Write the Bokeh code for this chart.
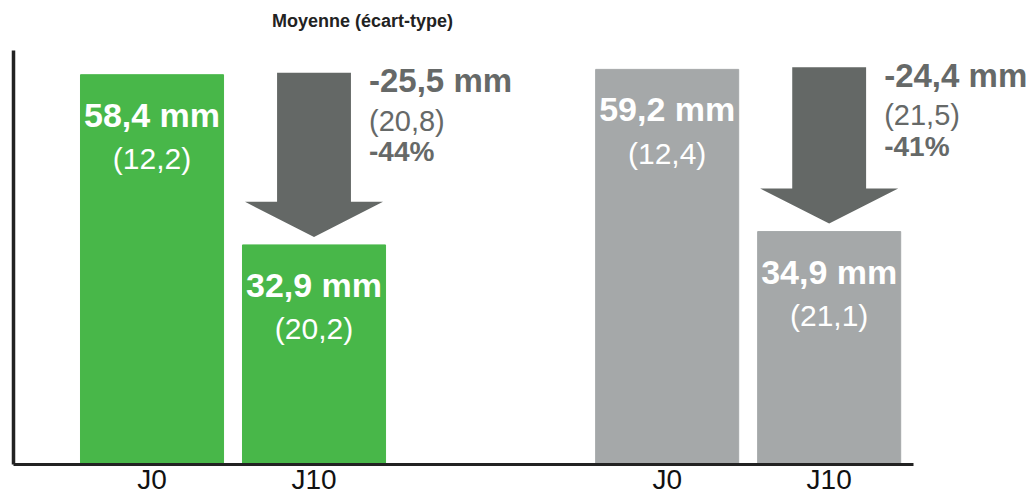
from bokeh.plotting import figure
from bokeh.models import ColumnDataSource, Range1d, FixedTicker, LinearAxis
from bokeh.core.properties import value
from bokeh.embed import file_html
from bokeh.resources import INLINE

# ---- data ----
groups = ["vert", "vert", "gris", "gris"]
days = ["J0", "J10", "J0", "J10"]
means = [58.4, 32.9, 59.2, 34.9]
mean_labels = ["58,4 mm", "32,9 mm", "59,2 mm", "34,9 mm"]
sd_labels = ["(12,2)", "(20,2)", "(12,4)", "(21,1)"]
diff_labels = ["-25,5 mm", "-24,4 mm"]
diff_sd_labels = ["(20,8)", "(21,5)"]
diff_pct_labels = ["-44%", "-41%"]
title_text = "Moyenne (écart-type)"

# ---- layout / style ----
W, H = 1030, 497
BORDER_L = 13
PX_X = 162.0            # pixels per x unit
X0 = 0.145
X1 = X0 + (W - BORDER_L) / PX_X
FRAME_H = 463
SCALE_Y = 6.66          # pixels per mm
Y_END = FRAME_H / SCALE_Y
PX = 1 / SCALE_Y        # y data units per pixel
GROUP_STEP = 3.18
BAR_W = 0.883
GREEN = "#48b749"
GREY = "#a5a8a9"
ARROW = "#646866"
TXT_GREY = "#666968"
FONT_NAME = "Liberation Sans"
FONT = value(FONT_NAME)

group_idx = {"vert": 0, "gris": 1}
day_idx = {"J0": 1, "J10": 2}
xs = [round(group_idx[g] * GROUP_STEP + day_idx[d], 3) for g, d in zip(groups, days)]
colors = [GREEN if g == "vert" else GREY for g in groups]

src = ColumnDataSource(dict(x=xs, mean=means, color=colors,
                            ml=mean_labels, sl=sd_labels))

p = figure(width=W, height=H, x_range=Range1d(X0, X1), y_range=Range1d(0, Y_END),
           output_backend="svg", toolbar_location=None,
           x_axis_type=None, y_axis_type=None,
           min_border_left=BORDER_L, min_border_right=0,
           min_border_top=0, min_border_bottom=0)
p.outline_line_color = None
p.background_fill_color = "white"

# bars
p.vbar(x="x", top="mean", width=BAR_W, bottom=0, color="color", source=src)

# value labels inside bars
p.text(x="x", y="mean", text="ml", source=src, text_align="center",
       text_baseline="alphabetic", y_offset=40, text_font=FONT,
       text_font_style="bold", text_font_size="34px", text_color="white")
p.text(x="x", y="mean", text="sl", source=src, text_align="center",
       text_baseline="alphabetic", y_offset=84, text_font=FONT,
       text_font_size="30px", text_color="white")

# arrows and change labels
arr_xs, arr_ys, lx, ly = [], [], [], []
for gi in range(2):
    i0 = days.index("J0", gi * 2)
    i1 = days.index("J10", gi * 2)
    xc = xs[i1]
    top = means[i0] + 2 * PX
    tip = means[i1] + 8 * PX
    base = tip + 35 * PX
    sw, hw = 0.228, 0.426
    arr_xs.append([xc - sw, xc + sw, xc + sw, xc + hw, xc, xc - hw, xc - sw])
    arr_ys.append([top, top, base, base, tip, base, base])
    lx.append(xc)
    ly.append(means[i0])
p.patches(xs=arr_xs, ys=arr_ys, fill_color=ARROW, line_color=None)

lsrc = ColumnDataSource(dict(x=lx, y=ly, d=diff_labels, s=diff_sd_labels, pc=diff_pct_labels))
p.text(x="x", y="y", text="d", source=lsrc, x_offset=55, y_offset=6,
       text_baseline="alphabetic", text_font=FONT, text_font_style="bold",
       text_font_size="33px", text_color=TXT_GREY)
p.text(x="x", y="y", text="s", source=lsrc, x_offset=55, y_offset=46,
       text_baseline="alphabetic", text_font=FONT,
       text_font_size="29px", text_color=TXT_GREY)
p.text(x="x", y="y", text="pc", source=lsrc, x_offset=55, y_offset=77,
       text_baseline="alphabetic", text_font=FONT, text_font_style="bold",
       text_font_size="28px", text_color=TXT_GREY)

# title
p.text(x=[2.299], y=[Y_END], text=[title_text], text_align="center",
       text_baseline="alphabetic", y_offset=20, text_font=FONT,
       text_font_style="bold", text_font_size="18px", text_color="#222222")

# axes
yaxis = LinearAxis(ticker=FixedTicker(ticks=[]), axis_line_width=3.5,
                   axis_line_color="#222222", major_tick_line_color=None,
                   minor_tick_line_color=None, major_label_text_font_size="0px",
                   bounds=(0, Y_END - 50 * PX))
p.add_layout(yaxis, "left")

xaxis = LinearAxis(ticker=FixedTicker(ticks=xs), axis_line_width=3,
                   axis_line_color="#222222", major_tick_line_color=None,
                   minor_tick_line_color=None,
                   major_label_overrides={x: d for x, d in zip(xs, days)},
                   major_label_text_font=FONT_NAME, major_label_text_font_size="28px",
                   major_label_text_color="#111111", major_label_standoff=-7,
                   bounds=(X0, X0 + (913 - BORDER_L) / PX_X))
p.add_layout(xaxis, "below")

open("out.html", "w").write(file_html(p, INLINE))
